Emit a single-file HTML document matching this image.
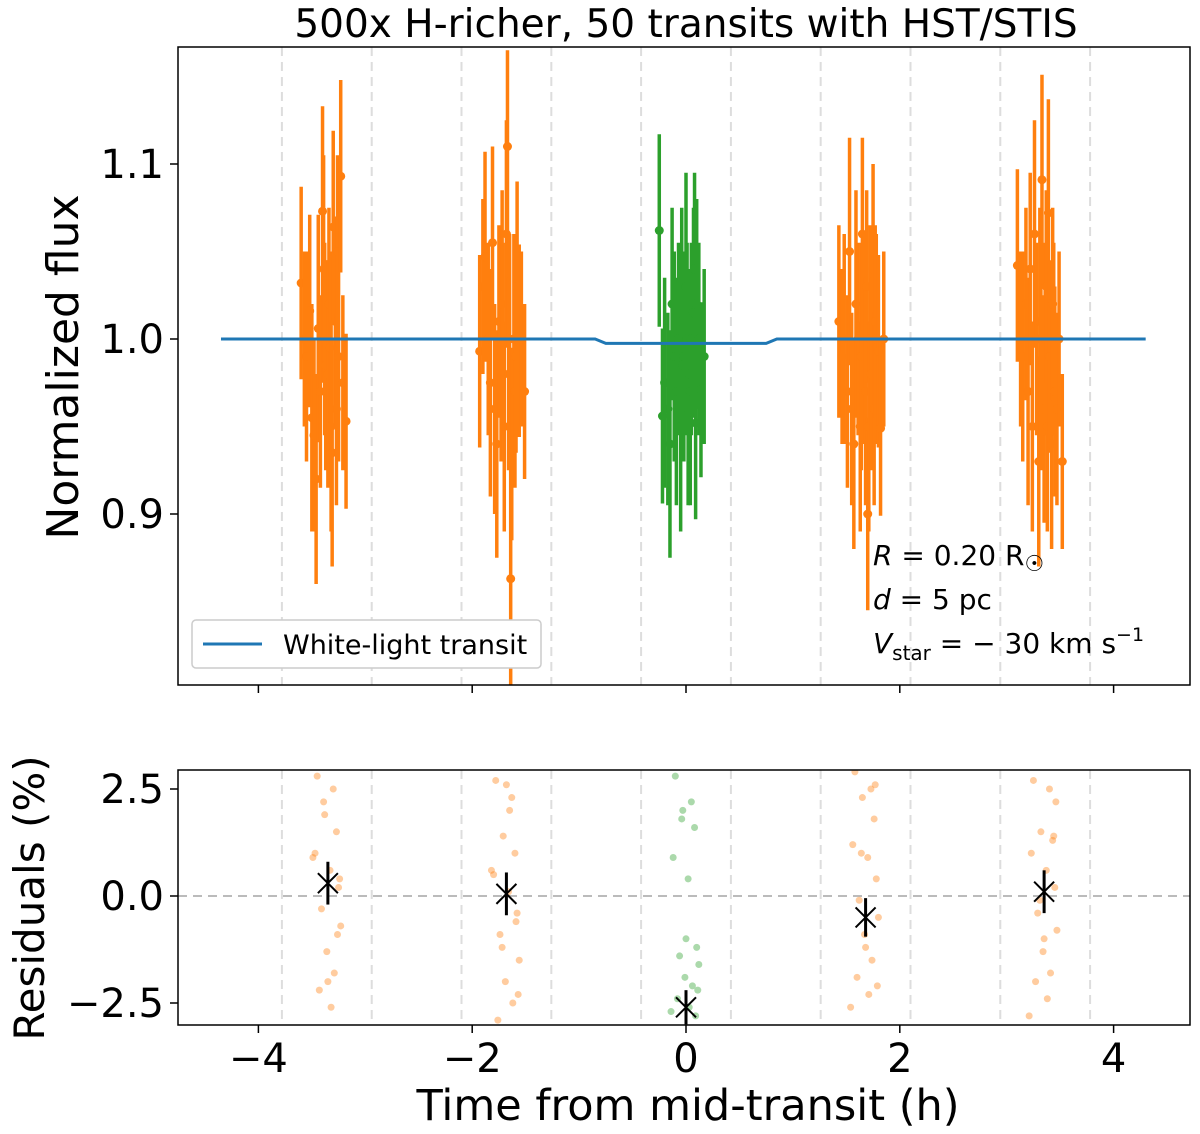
<!DOCTYPE html>
<html><head><meta charset="utf-8"><style>
body{margin:0;background:#fff;font-family:"DejaVu Sans","Liberation Sans",sans-serif}
svg text{font-family:"DejaVu Sans","Liberation Sans",sans-serif}
</style></head><body>
<svg id="c" width="1200" height="1130" xmlns="http://www.w3.org/2000/svg"></svg>
<script>
const centers=[-3.35,-1.68,0,1.68,3.35];
const groupColors=['#ff7f0e','#ff7f0e','#2ca02c','#ff7f0e','#ff7f0e'];
const dtG=[-0.25,-0.22,-0.2,-0.17,-0.15,-0.13,-0.11,-0.09,-0.07,-0.05,-0.04,-0.03,-0.02,0,0.01,0.02,0.03,0.04,0.05,0.07,0.08,0.09,0.1,0.12,0.14,0.17];
const flux1=[1.032,1.0,0.99,1.016,0.955,0.945,0.92,1.006,0.97,1.073,1.04,1.0,0.985,0.98,1.02,0.995,0.95,0.935,1.064,1.01,0.96,1.05,0.99,1.093,0.975,0.953];
const flux2=[0.993,1.03,1.047,1.0,0.975,1.055,0.96,0.94,1.01,0.99,1.02,1.0,0.95,1.06,1.11,0.98,1.0,0.863,0.94,1.0,0.97,0.99,1.03,0.999,1.0,0.97];
const flux3=[1.062,0.956,0.975,0.96,0.94,1.02,0.99,0.97,1.0,0.95,1.01,0.985,0.99,1.03,1.0,0.96,0.98,0.97,1.0,1.015,1.04,0.952,1.02,1.0,0.971,0.99];
const flux4=[1.01,0.99,1.0,0.97,1.05,0.96,0.94,1.02,1.0,0.95,0.99,1.06,1.0,0.97,1.03,0.9,0.95,1.0,0.98,1.04,0.96,1.01,1.0,0.993,0.949,1.0];
const flux5=[1.042,1.0,0.99,1.02,0.97,1.04,0.95,1.06,1.0,0.93,1.01,0.98,1.091,0.96,1.0,1.03,0.95,1.072,0.99,0.94,1.02,1.0,0.97,0.96,1.0,0.93];
const errG=[0.055,0.05,0.06,0.055,0.065,0.055,0.06,0.065,0.055,0.06,0.065,0.055,0.06,0.065,0.055,0.055,0.06,0.065,0.055,0.06,0.055,0.055,0.06,0.055,0.05,0.05];
const fluxGroups=[flux1,flux2,flux3,flux4,flux5];
const modelT=[-4.35,-0.85,-0.75,0.75,0.85,4.3];
const modelF=[1.0,1.0,0.9975,0.9975,1.0,1.0];
const res1=[2.8,2.5,1.9,1.5,1.0,0.6,0.2,-0.3,-0.7,-1.3,-1.8,-2.2,-2.6,0.9,-0.9,2.2,-2.0,0.4];
const res2=[2.7,2.3,1.4,1.0,0.5,0.1,-0.4,-0.9,-1.5,-2.0,-2.5,-2.9,2.0,0.6,-0.6,-1.2,2.6,-2.3];
const res3=[2.8,2.2,2.0,1.6,0.9,0.4,-1.2,-1.4,-1.6,-1.9,-2.1,-2.4,-2.6,-2.7,-2.8,1.8,-1.0,-2.2];
const res4=[2.9,2.5,2.3,1.8,1.2,0.9,0.4,-0.1,-0.5,-0.9,-1.5,-1.9,-2.3,-2.6,2.6,1.0,-1.2,-2.1];
const res5=[2.7,2.5,1.5,1.3,1.0,0.6,0.2,-0.4,-0.8,-1.3,-1.8,-2.0,-2.4,-2.8,1.4,-0.1,-1.0,2.2];
const resGroups=[res1,res2,res3,res4,res5];
const binMean=[0.3,0.05,-2.6,-0.5,0.1];
const binErr=[0.5,0.5,0.4,0.45,0.5];
const vlines=[-3.78,-2.94,-2.1,-1.26,-0.42,0.42,1.26,2.1,2.94,3.78];
const xticks=[-4,-2,0,2,4];
const yticksTop=[0.9,1.0,1.1];
const yticksBot=[-2.5,0.0,2.5];

const NS='http://www.w3.org/2000/svg';
const svg=document.getElementById('c');
function el(t,a,p){const e=document.createElementNS(NS,t);for(const k in a)e.setAttribute(k,a[k]);(p||svg).appendChild(e);return e;}
const L=178,R=1190,T1=47,B1=685,T2=770,B2=1025;
const X=t=>686+t*106.9;
const Y1=f=>339-(f-1)*1750;
const Y2=r=>896-r*42.8;

const defs=el('defs',{});
const c1=el('clipPath',{id:'cp1'},defs);el('rect',{x:L,y:T1,width:R-L,height:B1-T1},c1);
const c2=el('clipPath',{id:'cp2'},defs);el('rect',{x:L,y:T2,width:R-L,height:B2-T2},c2);

let t=el('text',{x:686,y:37,'font-size':39,'text-anchor':'middle'});t.textContent='500x H-richer, 50 transits with HST/STIS';


const g1=el('g',{'clip-path':'url(#cp1)'});

vlines.forEach(v=>{const l=el('line',{x1:X(v),x2:X(v),y1:T1,y2:B1,stroke:'#ddd','stroke-width':2,'stroke-dasharray':'9,6'},g1);
});
let mp='';modelT.forEach((tt,i)=>{mp+=(i?'L':'M')+X(tt)+' '+Y1(modelF[i]);});
fluxGroups.forEach((fg,gi)=>{
 const g=el('g',{},g1);
 fg.forEach((f,i)=>{const x=X(centers[gi]+dtG[i]);
  const l=el('line',{x1:x,x2:x,y1:Y1(f+errG[i]),y2:Y1(f-errG[i]),stroke:groupColors[gi],'stroke-width':3.5},g);
  
  const c=el('circle',{cx:x,cy:Y1(f),r:4.5,fill:groupColors[gi]},g);
  });
});
const mline=el('path',{d:mp,stroke:'#1f77b4','stroke-width':3,fill:'none'},g1);

el('rect',{x:L,y:T1,width:R-L,height:B1-T1,fill:'none',stroke:'#000','stroke-width':1.5});
xticks.forEach(v=>el('line',{x1:X(v),x2:X(v),y1:B1,y2:B1+8,stroke:'#000','stroke-width':1.5}));
yticksTop.forEach(v=>{el('line',{x1:L-8,x2:L,y1:Y1(v),y2:Y1(v),stroke:'#000','stroke-width':1.5});
 const tx=el('text',{x:L-14,y:Y1(v)+14,'font-size':40,'text-anchor':'end'});tx.textContent=v.toFixed(1);
 });
t=el('text',{transform:'translate(78,367) rotate(-90)','font-size':44,'text-anchor':'middle'});t.textContent='Normalized flux';

const lg=el('g',{});
el('rect',{x:192,y:620,width:349,height:48,rx:4,fill:'#fff',stroke:'#ccc','stroke-width':1.5},lg);
el('line',{x1:203,x2:262,y1:644,y2:644,stroke:'#1f77b4','stroke-width':3},lg);
t=el('text',{x:283,y:654,'font-size':27},lg);t.textContent='White-light transit';

const an=el('g',{'font-size':28});
an.innerHTML='<text x="873" y="565"><tspan font-style="italic">R</tspan> = 0.20 R<tspan font-size="22" dy="6">☉</tspan></text><text x="873" y="609"><tspan font-style="italic">d</tspan> = 5 pc</text><text x="873" y="653"><tspan font-style="italic">V</tspan><tspan font-size="20" dy="7">star</tspan><tspan dy="-7"> = − 30 km s</tspan><tspan font-size="19" dy="-12">−1</tspan></text>';

const g2=el('g',{'clip-path':'url(#cp2)'});

vlines.forEach(v=>el('line',{x1:X(v),x2:X(v),y1:T2,y2:B2,stroke:'#ddd','stroke-width':2,'stroke-dasharray':'9,6'},g2));
el('line',{x1:L,x2:R,y1:Y2(0),y2:Y2(0),stroke:'#bbb','stroke-width':2,'stroke-dasharray':'9,6'},g2);
const rdt=[-0.1,0.05,-0.03,0.08,-0.12,0.02,0.1,-0.06,0.12,-0.01,0.06,-0.08,0.03,-0.14,0.09,-0.04,0.0,0.11];
resGroups.forEach((rg,gi)=>{rg.forEach((r,i)=>{
 const c=el('circle',{cx:X(centers[gi]+rdt[i]),cy:Y2(r),r:3.5,fill:groupColors[gi],'fill-opacity':0.4},g2);
 });});
binMean.forEach((m,i)=>{const x=X(centers[i]),y=Y2(m);
 const g=el('g',{},g2);
 el('line',{x1:x,x2:x,y1:Y2(m+binErr[i]),y2:Y2(m-binErr[i]),stroke:'#000','stroke-width':3},g);
 el('path',{d:`M${x-10} ${y-10}L${x+10} ${y+10}M${x-10} ${y+10}L${x+10} ${y-10}`,stroke:'#000','stroke-width':2},g);});
el('rect',{x:L,y:T2,width:R-L,height:B2-T2,fill:'none',stroke:'#000','stroke-width':1.5});
xticks.forEach(v=>{el('line',{x1:X(v),x2:X(v),y1:B2,y2:B2+8,stroke:'#000','stroke-width':1.5});
 const tx=el('text',{x:X(v),y:1072,'font-size':40,'text-anchor':'middle'});tx.textContent=(v<0?'−':'')+Math.abs(v);
 });
yticksBot.forEach(v=>{el('line',{x1:L-8,x2:L,y1:Y2(v),y2:Y2(v),stroke:'#000','stroke-width':1.5});
 const tx=el('text',{x:L-14,y:Y2(v)+14,'font-size':40,'text-anchor':'end'});tx.textContent=(v<0?'−':'')+Math.abs(v).toFixed(1);
 });
t=el('text',{transform:'translate(44,898) rotate(-90)','font-size':42,'text-anchor':'middle'});t.textContent='Residuals (%)';

t=el('text',{x:688,y:1120,'font-size':43,'text-anchor':'middle'});t.textContent='Time from mid-transit (h)';

</script>
</body></html>
